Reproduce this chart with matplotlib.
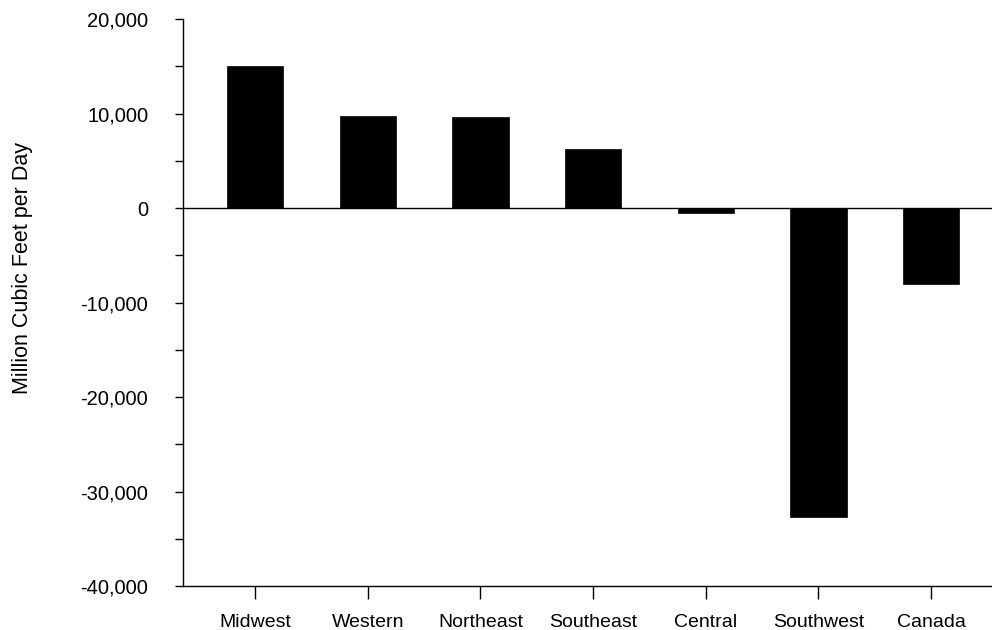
import matplotlib.pyplot as plt
from matplotlib.ticker import FuncFormatter, MultipleLocator
import numpy as np

# regions and net flow values (million cubic feet per day)
regions = ['Midwest', 'Western', 'Northeast', 'Southeast', 'Central', 'Southwest', 'Canada']
net_flow = [15000, 9700, 9600, 6200, -500, -32700, -8000]

plt.rcParams['font.family'] = ['Liberation Sans', 'DejaVu Sans']

fig = plt.figure(figsize=(9.92, 6.3), dpi=100)
ax = fig.add_axes([0.1845, 0.0698, 0.8155, 0.9])

x = np.arange(len(regions))
ax.bar(x, net_flow, width=0.5, color='black', edgecolor='black', linewidth=0.5, zorder=2)

# zero line
ax.axhline(0, color='black', linewidth=1.0, zorder=1)

ax.set_xlim(-0.64, 6.54)
ax.set_ylim(-40000, 20000)
ax.yaxis.set_major_locator(MultipleLocator(10000))
ax.yaxis.set_minor_locator(MultipleLocator(5000))
ax.yaxis.set_major_formatter(FuncFormatter(lambda v, p: '{:,.0f}'.format(v)))

ax.set_xticks(x)
ax.set_xticklabels(regions, fontsize=14)
ax.tick_params(axis='y', which='both', direction='out', length=6, width=1, pad=19, labelsize=14.5)
ax.tick_params(axis='x', direction='out', length=9, width=1, pad=11)

for s in ['top', 'right']:
    ax.spines[s].set_visible(False)
ax.spines['left'].set_linewidth(1)
ax.spines['bottom'].set_linewidth(1)

ax.set_ylabel('Million Cubic Feet per Day', fontsize=15.5)
ax.yaxis.set_label_coords(-0.1854, 0.561)

plt.savefig('out.png', dpi=100)
